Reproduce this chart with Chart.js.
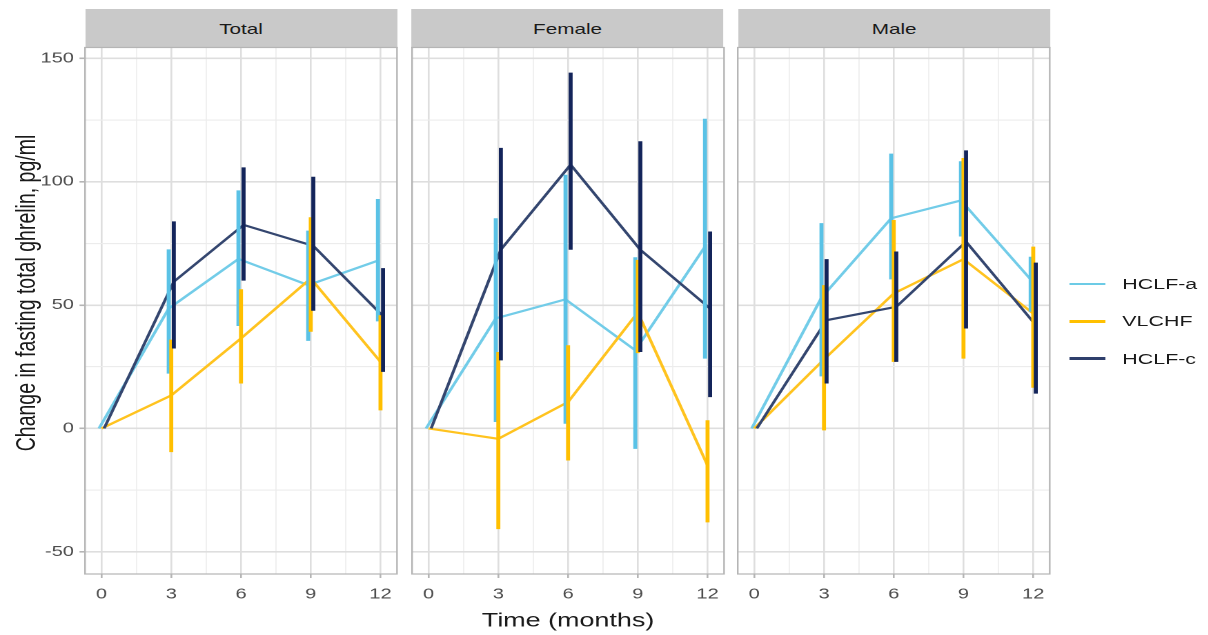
<!DOCTYPE html>
<html>
<head>
<meta charset="utf-8">
<script src="https://cdn.jsdelivr.net/npm/chart.js@4.4.1/dist/chart.umd.min.js"></script>
<style>
html,body{margin:0;padding:0;background:#fff;overflow:hidden;width:1208px;height:635px;}
#wrap{position:absolute;left:0;top:0;width:875.4px;height:635px;transform:scaleX(1.38);transform-origin:0 0;font-family:"Liberation Sans",Arial,Helvetica,sans-serif;}
#wrap canvas{position:absolute;top:0;}
.strip{position:absolute;top:8.5px;height:39px;background:#c9c9c9;color:#1a1a1a;font-size:15px;line-height:39px;text-align:center;}
.lkey{position:absolute;left:775.4px;width:25.4px;height:2.8px;}
.ltxt{position:absolute;left:813.3px;font-size:15.5px;line-height:18px;color:#1a1a1a;transform:translateY(-50%);white-space:nowrap;}
#ytitle{position:absolute;left:18.1px;top:293px;font-size:19.5px;line-height:22px;color:#1a1a1a;white-space:nowrap;transform:translate(-50%,-50%) rotate(-90deg);}
</style>
</head>
<body>
<div id="wrap"><div id="ytitle"></div></div>
<script>
// ---------------- data ----------------
const timepoints = [0, 3, 6, 9, 12];
const panels = ['Total', 'Female', 'Male'];
const groups = ['HCLF-a', 'VLCHF', 'HCLF-c'];
const xTickLabels = [0, 3, 6, 9, 12];
const yTickLabels = [-50, 0, 50, 100, 150];
const yTitle = 'Change in fasting total ghrelin, pg/ml';
const xTitle = 'Time (months)';

// rows: HCLF-a, VLCHF, HCLF-c
const totalMean = [[0, 48.6, 68.7, 58.1, 68.0], [0, 13.4, 36.5, 60.8, 27.0], [0, 59.5, 82.5, 74.0, 45.5]];
const totalLow  = [[0, 22.2, 41.5, 35.5, 43.4], [0, -9.6, 18.2, 39.2, 7.3], [0, 32.4, 59.9, 47.7, 22.9]];
const totalHigh = [[0, 72.6, 96.5, 80.2, 93.0], [0, 36.0, 56.4, 85.6, 45.9], [0, 83.9, 105.8, 102.0, 65.0]];

const femaleMean = [[0, 44.6, 52.3, 31.7, 73.7], [0, -4.2, 10.7, 47.0, -15.0], [0, 72.5, 106.9, 72.4, 48.6]];
const femaleLow  = [[0, 2.6, 1.9, -8.3, 28.3], [0, -40.8, -13.0, 30.5, -38.1], [0, 27.6, 72.4, 31.0, 12.7]];
const femaleHigh = [[0, 85.2, 102.8, 69.4, 125.5], [0, 31.0, 33.7, 68.3, 3.3], [0, 113.7, 144.2, 116.4, 79.8]];

const maleMean = [[0, 53.0, 85.2, 92.4, 60.4], [0, 28.0, 54.7, 68.6, 46.6], [0, 43.9, 49.3, 75.7, 41.9]];
const maleLow  = [[0, 21.1, 60.4, 77.8, 47.3], [0, -0.8, 27.0, 28.3, 16.5], [0, 18.2, 27.0, 40.5, 14.1]];
const maleHigh = [[0, 83.2, 111.4, 108.3, 69.6], [0, 58.1, 84.5, 109.6, 73.7], [0, 68.6, 71.7, 112.7, 67.2]];

// ---------------- styling / layout ----------------
const panelMeans = [totalMean, femaleMean, maleMean];
const panelLows = [totalLow, femaleLow, maleLow];
const panelHighs = [totalHigh, femaleHigh, maleHigh];
const dodge = [-0.11, 0, 0.11];
const lineColors = ['#72cce8', '#ffc31f', '#34466f'];
const barColors = ['#5ac2e6', '#ffbf00', '#13245a'];
const keyColors = ['#6ccbe6', '#ffc000', '#2f3f6c'];

const AXIS_W = 61.6, PANEL_W = 226.1, PANEL_L = [61.6, 298.2, 534.9];
const TOP = 47.5, BOTTOM = 574, H = 635, CW = 292;
const MAJOR_GRID = '#dedede', MINOR_GRID = '#ececec';
const FONT = '"Liberation Sans", Arial, sans-serif';

const wrap = document.getElementById('wrap');
document.getElementById('ytitle').textContent = yTitle;
const xGrid = [], yGrid = [];
for (let i = 0; i < xTickLabels.length; i++) { xGrid.push(xTickLabels[i]); if (i < xTickLabels.length - 1) xGrid.push((xTickLabels[i] + xTickLabels[i + 1]) / 2); }
for (let i = 0; i < yTickLabels.length; i++) { yGrid.push(yTickLabels[i]); if (i < yTickLabels.length - 1) yGrid.push((yTickLabels[i] + yTickLabels[i + 1]) / 2); }
const isMajX = v => xTickLabels.includes(v);
const isMajY = v => yTickLabels.includes(v);

const panelBorder = {
  id: 'panelBorder',
  afterDatasetsDraw(chart) {
    const {ctx, chartArea: a} = chart;
    ctx.save();
    ctx.strokeStyle = '#b5b5b5';
    ctx.lineWidth = 1.2;
    ctx.strokeRect(a.left, a.top, a.right - a.left, a.bottom - a.top);
    ctx.restore();
  }
};

panels.forEach((name, p) => {
  const strip = document.createElement('div');
  strip.className = 'strip';
  strip.style.left = PANEL_L[p] + 'px';
  strip.style.width = PANEL_W + 'px';
  strip.textContent = name;
  wrap.appendChild(strip);

  const canvas = document.createElement('canvas');
  canvas.width = CW; canvas.height = H;
  canvas.style.left = (PANEL_L[p] - AXIS_W) + 'px';
  canvas.style.width = CW + 'px'; canvas.style.height = H + 'px';
  wrap.appendChild(canvas);

  const datasets = [];
  groups.forEach((g, gi) => {
    datasets.push({
      label: g,
      data: timepoints.map((t, i) => ({x: t + dodge[gi], y: panelMeans[p][gi][i]})),
      borderColor: lineColors[gi], borderWidth: 2.2, pointRadius: 0, fill: false, tension: 0,
      order: 6 - gi
    });
  });
  groups.forEach((g, gi) => {
    const pts = [];
    timepoints.forEach((t, i) => {
      pts.push({x: t + dodge[gi], y: panelLows[p][gi][i]});
      pts.push({x: t + dodge[gi], y: panelHighs[p][gi][i]});
      pts.push({x: t + dodge[gi], y: null});
    });
    datasets.push({
      label: g + ' CI', data: pts, borderColor: barColors[gi], borderWidth: 2.9,
      pointRadius: 0, spanGaps: false, borderCapStyle: 'butt', fill: false,
      order: 3 - gi
    });
  });

  new Chart(canvas, {
    type: 'line',
    data: {datasets},
    plugins: [panelBorder],
    options: {
      responsive: false, animation: false, devicePixelRatio: 2,
      events: [],
      layout: {padding: {top: TOP, bottom: 0, left: 0, right: CW - AXIS_W - PANEL_W}},
      plugins: {legend: {display: false}, tooltip: {enabled: false}},
      scales: {
        x: {
          type: 'linear', min: -0.71, max: 12.71,
          afterBuildTicks: s => { s.ticks = xGrid.map(v => ({value: v})); },
          afterFit: s => { s.height = H - BOTTOM; },
          border: {display: false},
          grid: {
            color: c => isMajX(c.tick.value) ? MAJOR_GRID : MINOR_GRID,
            lineWidth: c => isMajX(c.tick.value) ? 1.3 : 0.8,
            tickColor: c => isMajX(c.tick.value) ? '#b5b5b5' : 'rgba(0,0,0,0)',
            tickLength: 4, drawTicks: true
          },
          ticks: {
            autoSkip: false, maxRotation: 0, padding: 8, color: '#4d4d4d',
            font: {family: FONT, size: 14.5},
            callback: v => isMajX(v) ? String(v) : ''
          },
          title: {
            display: p === 1, text: xTitle, color: '#1a1a1a',
            font: {family: FONT, size: 19.5},
            padding: {top: 0, bottom: 2.3}
          }
        },
        y: {
          type: 'linear', min: -59, max: 154.4,
          afterBuildTicks: s => { s.ticks = yGrid.map(v => ({value: v})); },
          afterFit: s => { s.width = AXIS_W; },
          border: {display: false},
          grid: {
            color: c => isMajY(c.tick.value) ? MAJOR_GRID : MINOR_GRID,
            lineWidth: c => isMajY(c.tick.value) ? 1.6 : 1.1,
            tickColor: c => isMajY(c.tick.value) ? '#b5b5b5' : 'rgba(0,0,0,0)',
            tickLength: 4, drawTicks: p === 0
          },
          ticks: {
            display: p === 0, padding: 4, color: '#4d4d4d',
            font: {family: FONT, size: 14.5},
            callback: v => isMajY(v) ? String(v) : ''
          },
          title: {display: false}
        }
      }
    }
  });
});

// legend
const legendY = [284, 321.3, 358.5];
groups.forEach((g, gi) => {
  const k = document.createElement('div');
  k.className = 'lkey';
  k.style.top = (legendY[gi] - 1.4) + 'px';
  k.style.background = keyColors[gi];
  wrap.appendChild(k);
  const t = document.createElement('div');
  t.className = 'ltxt';
  t.style.top = legendY[gi] + 'px';
  t.textContent = g;
  wrap.appendChild(t);
});
</script>
</body>
</html>
